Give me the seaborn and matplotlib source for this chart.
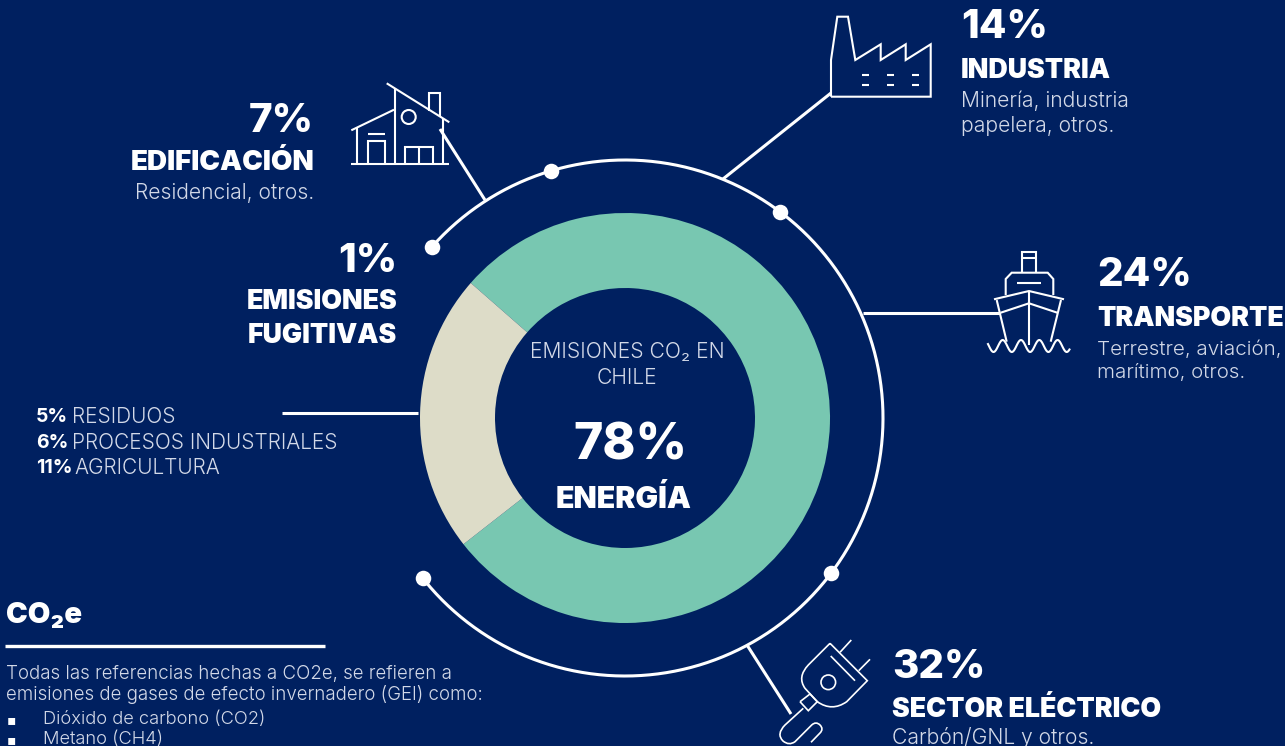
import numpy as np
import pandas as pd
import seaborn as sns
import matplotlib.pyplot as plt
from matplotlib.patches import Circle, PathPatch
from matplotlib.path import Path

# donut values
donut_labels = ['Energía', 'Otros']
donut_values = [78, 22]
# sectors of energy
sector_names = ['INDUSTRIA', 'TRANSPORTE', 'SECTOR ELÉCTRICO', 'EDIFICACIÓN']
sector_pct = ['14%', '24%', '32%', '7%']
fugitive_pct = '1%'
other_pct = ['5%', '6%', '11%']
other_names = ['RESIDUOS', 'PROCESOS INDUSTRIALES', 'AGRICULTURA']
# angles of the dots on the outer ring, degrees
ring_angles = [138.4, 106.7, 53.0, -37.0, -141.7]

BG = '#002060'
TEAL = '#78C7B1'
BEIGE = '#DDDCC8'
SOFT = '#D3D9E8'
HEAVY = ['Inter', 'DejaVu Sans']
LIGHT = ['Inter', 'DejaVu Sans']

sns.set_theme(style='white')
palette = sns.color_palette([TEAL, BEIGE])

fig = plt.figure(figsize=(12.85, 7.46), dpi=100, facecolor=BG)
ax = fig.add_axes([0, 0, 1, 1])

CX, CY = 625, 418
ax.pie(donut_values, colors=palette, center=(CX, CY), radius=205, startangle=-138.8,
       wedgeprops={'width': 75, 'linewidth': 0})
ax.set_xlim(0, 1285)
ax.set_ylim(746, 0)
ax.set_aspect('auto')
ax.axis('off')
fig.patch.set_facecolor(BG)


def line(pts, lw=1.5):
    pts = np.array(pts)
    ax.plot(pts[:, 0], pts[:, 1], color='white', lw=lw, solid_joinstyle='miter', solid_capstyle='butt')


def circle(x, y, r, lw=1.5):
    ax.add_patch(Circle((x, y), r, fill=False, ec='white', lw=lw))


def curve(verts, codes, lw=1.5):
    ax.add_patch(PathPatch(Path(verts, codes), fill=False, ec='white', lw=lw))


# outer ring, clockwise from upper left round to lower left
theta = np.radians(np.linspace(ring_angles[0], ring_angles[-1], 300))
ax.plot(CX + 258 * np.cos(theta), CY - 258 * np.sin(theta), color='white', lw=2.2)
dots = pd.DataFrame({'x': CX + 258 * np.cos(np.radians(ring_angles)),
                     'y': CY - 258 * np.sin(np.radians(ring_angles))})
sns.scatterplot(data=dots, x='x', y='y', ax=ax, color='white', s=125, linewidth=0, zorder=5, legend=False)
ax.set_xlim(0, 1285)
ax.set_ylim(746, 0)

# leaders
line([(723, 179), (831, 93)], 2.2)
line([(863, 313), (1000, 313)], 2.2)
line([(440, 129), (485, 200)], 2.2)
line([(747, 645), (791, 714)], 2.2)
line([(282, 413), (418, 413)], 2.2)
line([(5, 646), (325, 646)], 2.4)

# factory
line([(831, 96.7), (831, 60), (837.3, 16.7), (848, 16.7), (855.3, 60), (880.7, 44.3), (880.7, 60), (905.7, 44.3),
      (905.7, 60), (930.7, 44.3), (930.7, 96.7), (831, 96.7)])
for x0 in [862.3, 887.3, 912.3]:
    for y0 in [75, 85]:
        line([(x0, y0), (x0 + 7, y0)])

# ship
line([(1022.3, 272.7), (1022.3, 252.3), (1036, 252.3), (1036, 272.7)])
line([(1022.3, 258.3), (1036, 258.3)])
line([(1005.7, 295), (1005.7, 279), (1011.7, 272.7), (1047.7, 272.7), (1053.3, 279), (1053.3, 295)])
line([(1016.7, 282.7), (1040.7, 282.7)])
line([(994, 299.3), (1029, 291), (1064, 299.3)])
line([(996.7, 300), (1006.7, 341.7)])
line([(1061, 300), (1050.7, 341.7)])
line([(1000.7, 312.7), (1029, 303.3), (1057.3, 312.7)])
line([(1029, 291), (1029, 345)])
wave_x = np.linspace(987.5, 1070, 120)
line(np.column_stack([wave_x, 346 - 6 * np.sin((wave_x - 998.1) * 2 * np.pi / 18.3)]))

# house
line([(386.7, 83.3), (449.3, 122.3)])
line([(394.7, 88.3), (394.7, 164.3)])
line([(351.3, 130.3), (394, 109.7)])
line([(357, 127.3), (357, 164.3)])
line([(351.3, 164.3), (449.3, 164.3)])
line([(429, 110.7), (429, 92.7), (439.7, 92.7), (439.7, 116.7)])
circle(408.7, 117, 7)
line([(443, 119), (443, 164.3)])
line([(367.7, 164.3), (367.7, 140.7), (384.7, 140.7), (384.7, 164.3)])
line([(368, 133.7), (384.7, 133.7)])
line([(405.3, 164.3), (405.3, 147.3), (432.7, 147.3), (432.7, 164.3)])
line([(419, 147.3), (419, 164.3)])

# plug
M, L, Q = Path.MOVETO, Path.LINETO, Path.CURVE3
curve([(830, 643.3), (867.3, 680.7), (846.7, 701.7), (832, 712), (817.3, 701.7), (805, 688.3), (797, 677), (808.3, 665),
       (830, 643.3)], [M, L, L, Q, Q, L, Q, Q, L], 1.2)
line([(840, 652.3), (851.3, 640)], 1.2)
line([(858.7, 670.7), (870, 659.3)], 1.2)
line([(830.7, 656), (855, 680.7)], 1.2)
circle(828.3, 682.3, 7.3, 1.2)
line([(800, 701.7), (810, 694), (817.3, 701.7), (808.3, 710.7), (800, 701.7)], 1.2)
curve([(803.3, 708.3), (785, 725), (776, 734), (783, 741), (789, 746), (795, 741.7), (811.7, 725), (816, 721), (820, 725),
       (824, 729), (820, 733), (811, 742.3)], [M, L, Q, Q, Q, Q, L, Q, Q, Q, Q, L], 1.2)

# sector labels
line_sizes = (29, 19.3, 15.2)
for i, (x, y0, y1) in enumerate([(961, 28, 71), (1097, 276, 319), (892, 668, 710)]):
    ax.text(x, y0, sector_pct[i], color='white', fontsize=line_sizes[0], family=HEAVY, weight=800, va='center')
    ax.text(x, y1, sector_names[i], color='white', fontsize=line_sizes[1], family=HEAVY, weight=900, va='center')
ax.text(961, 113.5, 'Minería, industria\npapelera, otros.', color=SOFT, fontsize=line_sizes[2], family=LIGHT, weight=300,
        va='center', linespacing=1.3)
ax.text(1097, 361.5, 'Terrestre, aviación,\nmarítimo, otros.', color=SOFT, fontsize=14.8, family=LIGHT, weight=300,
        va='center', linespacing=1.33)
ax.text(892, 738, 'Carbón/GNL y otros.', color=SOFT, fontsize=line_sizes[2], family=LIGHT, weight=300, va='center')

ax.text(314, 121, sector_pct[3], color='white', fontsize=line_sizes[0], family=HEAVY, weight=800, va='center', ha='right')
ax.text(314, 163, sector_names[3], color='white', fontsize=20, family=HEAVY, weight=900, va='center', ha='right')
ax.text(314, 193, 'Residencial, otros.', color=SOFT, fontsize=line_sizes[2], family=LIGHT, weight=300, va='center', ha='right')

ax.text(397, 261, fugitive_pct, color='white', fontsize=line_sizes[0], family=HEAVY, weight=800, va='center', ha='right')
ax.text(397, 319, 'EMISIONES\nFUGITIVAS', color='white', fontsize=19.3, family=HEAVY, weight=900, va='center',
        ha='right', linespacing=1.42)

# left list
for i, y in enumerate([417, 443, 468]):
    ax.text(36, y, other_pct[i], color='white', fontsize=14, family=HEAVY, weight=700, va='center')
    ax.text(74 if i == 2 else 72, y, other_names[i], color=SOFT, fontsize=15, family=LIGHT, weight=300, va='center')

# centre
ax.text(627, 365, 'EMISIONES CO₂ EN\nCHILE', color=SOFT, fontsize=15.2, family=LIGHT, weight=300, ha='center', va='center',
        linespacing=1.36)
ax.text(630, 446, '78%', color='white', fontsize=36, family=HEAVY, weight=800, ha='center', va='center')
ax.text(624, 499, 'ENERGÍA', color='white', fontsize=21.8, family=HEAVY, weight=900, ha='center', va='center')

# note
ax.text(6, 616, 'CO₂e', color='white', fontsize=21, family=HEAVY, weight=900, va='center')
ax.text(6, 684.5, 'Todas las referencias hechas a CO2e, se refieren a\nemisiones de gases de efecto invernadero (GEI) como:',
        color=SOFT, fontsize=13.5, family=LIGHT, weight=300, va='center', linespacing=1.15)
for y, t in [(720, 'Dióxido de carbono (CO2)'), (740, 'Metano (CH4)')]:
    ax.text(7, y, '▪', color='white', fontsize=10, family=['DejaVu Sans'], va='center')
    ax.text(43, y, t, color=SOFT, fontsize=13.2, family=LIGHT, weight=300, va='center')

fig.savefig('out.png', dpi=100, facecolor=BG)
